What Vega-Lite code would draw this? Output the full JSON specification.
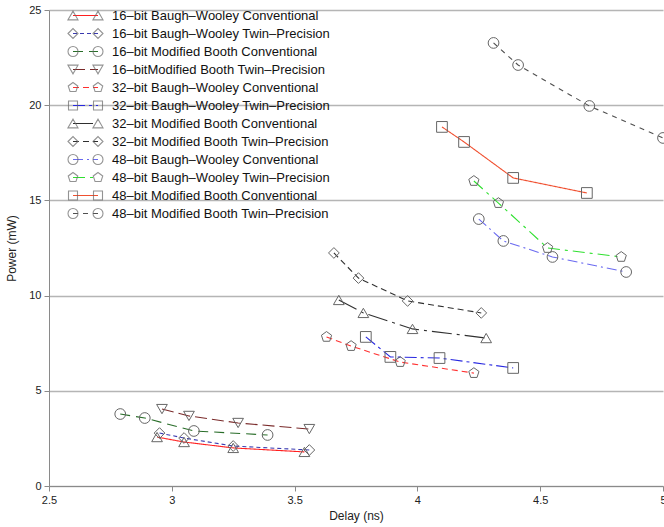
{
  "$schema": "https://vega.github.io/schema/vega-lite/v6.json",
  "autosize": "none",
  "width": 614,
  "height": 476,
  "padding": {"left": 49, "top": 10, "right": 1, "bottom": 41},
  "background": "white",
  "config": {
    "view": {"stroke": null},
    "font": "Liberation Sans",
    "axis": {"labelFont": "Liberation Sans", "titleFont": "Liberation Sans", "labelColor": "#222", "titleColor": "#222", "titleFontWeight": "normal", "domainColor": "#8a8a8a", "tickColor": "#8a8a8a", "tickSize": 5, "labelFontSize": 11, "titleFontSize": 12}
  },
  "data": {"values": [
    {"series": "16–bit Baugh–Wooley Conventional", "delay": 2.94, "power": 2.57},
    {"series": "16–bit Baugh–Wooley Conventional", "delay": 3.05, "power": 2.31},
    {"series": "16–bit Baugh–Wooley Conventional", "delay": 3.25, "power": 2.0},
    {"series": "16–bit Baugh–Wooley Conventional", "delay": 3.54, "power": 1.79},
    {"series": "16–bit Baugh–Wooley Twin–Precision", "delay": 2.95, "power": 2.78},
    {"series": "16–bit Baugh–Wooley Twin–Precision", "delay": 3.05, "power": 2.52},
    {"series": "16–bit Baugh–Wooley Twin–Precision", "delay": 3.25, "power": 2.1},
    {"series": "16–bit Baugh–Wooley Twin–Precision", "delay": 3.56, "power": 1.89},
    {"series": "16–bit Modified Booth Conventional", "delay": 2.79, "power": 3.78},
    {"series": "16–bit Modified Booth Conventional", "delay": 2.89, "power": 3.57},
    {"series": "16–bit Modified Booth Conventional", "delay": 3.09, "power": 2.89},
    {"series": "16–bit Modified Booth Conventional", "delay": 3.39, "power": 2.68},
    {"series": "16–bitModified Booth Twin–Precision", "delay": 2.96, "power": 4.04},
    {"series": "16–bitModified Booth Twin–Precision", "delay": 3.07, "power": 3.68},
    {"series": "16–bitModified Booth Twin–Precision", "delay": 3.27, "power": 3.31},
    {"series": "16–bitModified Booth Twin–Precision", "delay": 3.56, "power": 2.99},
    {"series": "32–bit Baugh–Wooley Conventional", "delay": 3.63, "power": 7.83},
    {"series": "32–bit Baugh–Wooley Conventional", "delay": 3.73, "power": 7.35},
    {"series": "32–bit Baugh–Wooley Conventional", "delay": 3.93, "power": 6.51},
    {"series": "32–bit Baugh–Wooley Conventional", "delay": 4.23, "power": 5.93},
    {"series": "32–bit Baugh–Wooley Twin–Precision", "delay": 3.79, "power": 7.83},
    {"series": "32–bit Baugh–Wooley Twin–Precision", "delay": 3.89, "power": 6.78},
    {"series": "32–bit Baugh–Wooley Twin–Precision", "delay": 4.09, "power": 6.72},
    {"series": "32–bit Baugh–Wooley Twin–Precision", "delay": 4.39, "power": 6.2},
    {"series": "32–bit Modified Booth Conventional", "delay": 3.68, "power": 9.77},
    {"series": "32–bit Modified Booth Conventional", "delay": 3.78, "power": 9.09},
    {"series": "32–bit Modified Booth Conventional", "delay": 3.98, "power": 8.25},
    {"series": "32–bit Modified Booth Conventional", "delay": 4.28, "power": 7.77},
    {"series": "32–bit Modified Booth Twin–Precision", "delay": 3.66, "power": 12.24},
    {"series": "32–bit Modified Booth Twin–Precision", "delay": 3.76, "power": 10.92},
    {"series": "32–bit Modified Booth Twin–Precision", "delay": 3.96, "power": 9.72},
    {"series": "32–bit Modified Booth Twin–Precision", "delay": 4.26, "power": 9.09},
    {"series": "48–bit Baugh–Wooley Conventional", "delay": 4.25, "power": 14.02},
    {"series": "48–bit Baugh–Wooley Conventional", "delay": 4.35, "power": 12.87},
    {"series": "48–bit Baugh–Wooley Conventional", "delay": 4.55, "power": 12.03},
    {"series": "48–bit Baugh–Wooley Conventional", "delay": 4.85, "power": 11.24},
    {"series": "48–bit Baugh–Wooley Twin–Precision", "delay": 4.23, "power": 16.02},
    {"series": "48–bit Baugh–Wooley Twin–Precision", "delay": 4.33, "power": 14.86},
    {"series": "48–bit Baugh–Wooley Twin–Precision", "delay": 4.53, "power": 12.5},
    {"series": "48–bit Baugh–Wooley Twin–Precision", "delay": 4.83, "power": 12.03},
    {"series": "48–bit Modified Booth Conventional", "delay": 4.1, "power": 18.86},
    {"series": "48–bit Modified Booth Conventional", "delay": 4.19, "power": 18.07},
    {"series": "48–bit Modified Booth Conventional", "delay": 4.39, "power": 16.18},
    {"series": "48–bit Modified Booth Conventional", "delay": 4.69, "power": 15.39},
    {"series": "48–bit Modified Booth Twin–Precision", "delay": 4.31, "power": 23.27},
    {"series": "48–bit Modified Booth Twin–Precision", "delay": 4.41, "power": 22.11},
    {"series": "48–bit Modified Booth Twin–Precision", "delay": 4.7, "power": 19.96},
    {"series": "48–bit Modified Booth Twin–Precision", "delay": 5.0, "power": 18.28}
  ]},
  "encoding": {
    "x": {"field": "delay", "type": "quantitative", "title": "Delay (ns)",
      "scale": {"domain": [2.5, 5], "nice": false, "zero": false},
      "axis": {"values": [2.5, 3, 3.5, 4, 4.5, 5], "format": "~g", "grid": false, "labelPadding": 3, "titlePadding": 5, "labelFlush": false}},
    "y": {"field": "power", "type": "quantitative", "title": "Power (mW)",
      "scale": {"domain": [0, 25], "nice": false},
      "axis": {"values": [0, 5, 10, 15, 20, 25], "grid": true, "gridColor": "#b5b5b5", "gridWidth": 1.5, "labelPadding": 3, "titlePadding": 10}}
  },
  "layer": [
    {
      "mark": {"type": "line", "strokeWidth": 1.1},
      "encoding": {
        "color": {"field": "series", "type": "nominal",
          "scale": {"domain": ["16–bit Baugh–Wooley Conventional", "16–bit Baugh–Wooley Twin–Precision", "16–bit Modified Booth Conventional", "16–bitModified Booth Twin–Precision", "32–bit Baugh–Wooley Conventional", "32–bit Baugh–Wooley Twin–Precision", "32–bit Modified Booth Conventional", "32–bit Modified Booth Twin–Precision", "48–bit Baugh–Wooley Conventional", "48–bit Baugh–Wooley Twin–Precision", "48–bit Modified Booth Conventional", "48–bit Modified Booth Twin–Precision"],
            "range": ["#ff2020", "#3a3ab0", "#2a6e2a", "#7a2a2a", "#ff3030", "#2828e0", "#303030", "#303030", "#6a6af0", "#30e030", "#f05030", "#505050"]},
          "legend": {"orient": "none", "legendX": 13, "legendY": -1, "title": null, "padding": 0, "symbolType": "M-2.5,0L2.5,0", "symbolSize": 100, "symbolStrokeWidth": 1.1, "symbolOffset": 17, "labelOffset": 20, "rowPadding": 4, "clipHeight": 13, "labelFont": "Liberation Sans", "labelFontSize": 13, "labelColor": "#111", "labelLimit": 400}},
        "strokeDash": {"field": "series", "type": "nominal",
          "scale": {"domain": ["16–bit Baugh–Wooley Conventional", "16–bit Baugh–Wooley Twin–Precision", "16–bit Modified Booth Conventional", "16–bitModified Booth Twin–Precision", "32–bit Baugh–Wooley Conventional", "32–bit Baugh–Wooley Twin–Precision", "32–bit Modified Booth Conventional", "32–bit Modified Booth Twin–Precision", "48–bit Baugh–Wooley Conventional", "48–bit Baugh–Wooley Twin–Precision", "48–bit Modified Booth Conventional", "48–bit Modified Booth Twin–Precision"],
            "range": [[1, 0], [4, 3], [10, 6], [12, 5], [6, 4], [12, 4, 3, 4], [20, 5, 3, 5], [6, 4], [10, 4, 2, 4], [12, 5, 3, 5], [1, 0], [5, 5]]},
          "legend": {"orient": "none", "legendX": 13, "legendY": -1, "title": null, "padding": 0, "symbolType": "M-2.5,0L2.5,0", "symbolSize": 100, "symbolStrokeWidth": 1.1, "symbolOffset": 17, "labelOffset": 20, "rowPadding": 4, "clipHeight": 13, "labelFont": "Liberation Sans", "labelFontSize": 13, "labelColor": "#111", "labelLimit": 400}}
      }
    },
    {
      "mark": {"type": "point", "filled": false, "stroke": "#666", "strokeWidth": 1, "size": 115, "opacity": 1},
      "encoding": {
        "shape": {"field": "series", "type": "nominal", "legend": null,
          "scale": {"domain": ["16–bit Baugh–Wooley Conventional", "16–bit Baugh–Wooley Twin–Precision", "16–bit Modified Booth Conventional", "16–bitModified Booth Twin–Precision", "32–bit Baugh–Wooley Conventional", "32–bit Baugh–Wooley Twin–Precision", "32–bit Modified Booth Conventional", "32–bit Modified Booth Twin–Precision", "48–bit Baugh–Wooley Conventional", "48–bit Baugh–Wooley Twin–Precision", "48–bit Modified Booth Conventional", "48–bit Modified Booth Twin–Precision"],
            "range": ["triangle-up", "diamond", "circle", "triangle-down", "M0,-1L0.95,-0.31L0.59,0.81L-0.59,0.81L-0.95,-0.31Z", "square", "triangle-up", "diamond", "circle", "M0,-1L0.95,-0.31L0.59,0.81L-0.59,0.81L-0.95,-0.31Z", "square", "circle"]}}
      }
    },
    {
      "transform": [{"filter": "datum.delay > 100"}],
      "mark": {"type": "point", "filled": false, "stroke": "#666", "strokeWidth": 1},
      "encoding": {
        "shape": {"field": "series", "type": "nominal",
          "scale": {"domain": ["16–bit Baugh–Wooley Conventional", "16–bit Baugh–Wooley Twin–Precision", "16–bit Modified Booth Conventional", "16–bitModified Booth Twin–Precision", "32–bit Baugh–Wooley Conventional", "32–bit Baugh–Wooley Twin–Precision", "32–bit Modified Booth Conventional", "32–bit Modified Booth Twin–Precision", "48–bit Baugh–Wooley Conventional", "48–bit Baugh–Wooley Twin–Precision", "48–bit Modified Booth Conventional", "48–bit Modified Booth Twin–Precision"],
            "range": [
              "M-3.5,0.87L-2.5,-0.87L-1.5,0.87Z M1.5,0.87L2.5,-0.87L3.5,0.87Z",
              "M-3.5,0L-2.5,-1L-1.5,0L-2.5,1Z M1.5,0L2.5,-1L3.5,0L2.5,1Z",
              "M-3.5,0A1,1,0,1,1,-1.5,0A1,1,0,1,1,-3.5,0Z M1.5,0A1,1,0,1,1,3.5,0A1,1,0,1,1,1.5,0Z",
              "M-3.5,-0.87L-2.5,0.87L-1.5,-0.87Z M1.5,-0.87L2.5,0.87L3.5,-0.87Z",
              "M-2.5,-1L-1.55,-0.31L-1.91,0.81L-3.09,0.81L-3.45,-0.31Z M2.5,-1L3.45,-0.31L3.09,0.81L1.91,0.81L1.55,-0.31Z",
              "M-3.4,-0.9H-1.6V0.9H-3.4Z M1.6,-0.9H3.4V0.9H1.6Z",
              "M-3.5,0.87L-2.5,-0.87L-1.5,0.87Z M1.5,0.87L2.5,-0.87L3.5,0.87Z",
              "M-3.5,0L-2.5,-1L-1.5,0L-2.5,1Z M1.5,0L2.5,-1L3.5,0L2.5,1Z",
              "M-3.5,0A1,1,0,1,1,-1.5,0A1,1,0,1,1,-3.5,0Z M1.5,0A1,1,0,1,1,3.5,0A1,1,0,1,1,1.5,0Z",
              "M-2.5,-1L-1.55,-0.31L-1.91,0.81L-3.09,0.81L-3.45,-0.31Z M2.5,-1L3.45,-0.31L3.09,0.81L1.91,0.81L1.55,-0.31Z",
              "M-3.4,-0.9H-1.6V0.9H-3.4Z M1.6,-0.9H3.4V0.9H1.6Z",
              "M-3.5,0A1,1,0,1,1,-1.5,0A1,1,0,1,1,-3.5,0Z M1.5,0A1,1,0,1,1,3.5,0A1,1,0,1,1,1.5,0Z"
            ]},
          "legend": {"orient": "none", "legendX": 13, "legendY": -1, "title": null, "padding": 0, "symbolSize": 100, "symbolStrokeWidth": 1.1, "symbolStrokeColor": "#666", "symbolFillColor": "transparent", "symbolOffset": 17, "labelOffset": 20, "rowPadding": 4, "clipHeight": 13, "labelFont": "Liberation Sans", "labelFontSize": 13, "labelColor": "#111", "labelExpr": "''", "labelLimit": 400}}
      }
    }
  ],
  "resolve": {"scale": {"shape": "independent"}, "legend": {"shape": "independent"}}
}
